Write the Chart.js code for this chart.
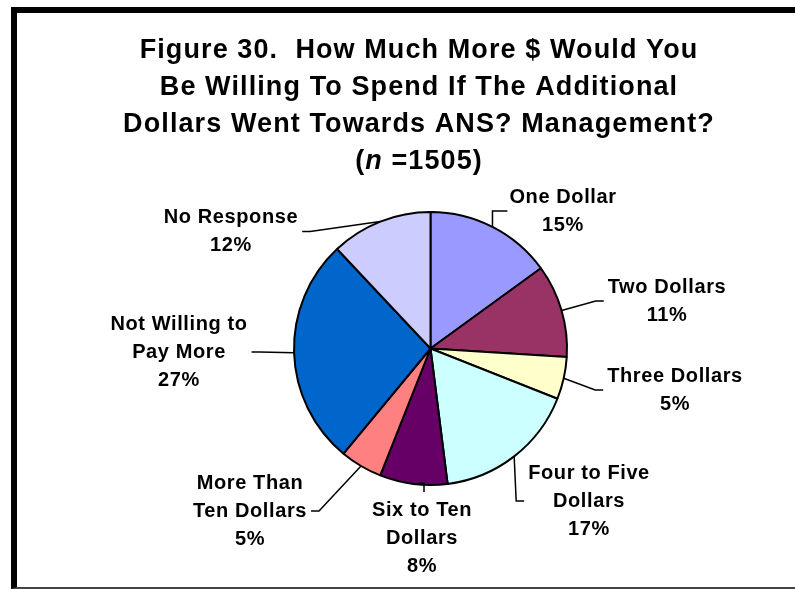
<!DOCTYPE html>
<html>
<head>
<meta charset="utf-8">
<script src="https://cdn.jsdelivr.net/npm/chart.js@4.4.0/dist/chart.umd.min.js"></script>
<style>
  html, body { margin: 0; padding: 0; background: #fff; }
  #wrap { position: relative; width: 795px; height: 589px; overflow: hidden; }
  #pieChart { position: absolute; left: 0; top: 0; }
  #frame {
    position: absolute; left: 11px; top: 7px; width: 784px; height: 582px;
    box-sizing: border-box; pointer-events: none;
    border-left: 6px solid #000; border-top: 6px solid #000; border-bottom: 2px solid #444;
  }
</style>
</head>
<body>
<div id="wrap">
  <canvas id="pieChart" width="795" height="589"></canvas>
  <div id="frame"></div>
</div>
<script>
// Survey answers, clockwise from 12 o'clock
const categories = [
  'One Dollar', 'Two Dollars', 'Three Dollars', 'Four to Five Dollars',
  'Six to Ten Dollars', 'More Than Ten Dollars', 'Not Willing to Pay More', 'No Response'
];
const percents = [15, 11, 5, 17, 8, 5, 27, 12];
const sliceColors = ['#9999FF', '#993366', '#FFFFCC', '#CCFFFF', '#660066', '#FF8080', '#0066CC', '#CCCCFF'];

// How each category name wraps in its label
const labelLines = [
  ['One Dollar'],
  ['Two Dollars'],
  ['Three Dollars'],
  ['Four to Five', 'Dollars'],
  ['Six to Ten', 'Dollars'],
  ['More Than', 'Ten Dollars'],
  ['Not Willing to', 'Pay More'],
  ['No Response']
];

const titleLines = [
  'Figure 30.  How Much More $ Would You',
  'Be Willing To Spend If The Additional',
  'Dollars Went Towards ANS? Management?'
];
const sampleSize = 1505;

// label block centre as an offset from the pie centre, and where the leader line meets it
const labelPlacement = [
  { dx: 132.5, dy: -137.5, side: 'corner' },
  { dx: 236.5, dy: -47.5, side: 'right' },
  { dx: 244.5, dy: 41.5, side: 'right' },
  { dx: 158.5, dy: 152.5, side: 'right' },
  { dx: -8.5, dy: 189.5, side: 'below' },
  { dx: -180.5, dy: 162.5, side: 'left' },
  { dx: -251.5, dy: 3.5, side: 'left' },
  { dx: -199.5, dy: -117, side: 'left' }
];

const FONT = '"Liberation Sans", Arial, sans-serif';
const TITLE_SIZE = 27;
const TITLE_LINE = 37;
const TITLE_X = 419;
const TITLE_Y = 50.5;   // middle of the first title line
const LABEL_SIZE = 20;
const LABEL_LINE = 28;

// four-line heading; the last line has an italic n
const heading = {
  id: 'heading',
  afterDraw(chart) {
    const ctx = chart.ctx;
    const bold = `bold ${TITLE_SIZE}px ${FONT}`;
    ctx.save();
    ctx.letterSpacing = '1.1px';
    ctx.fillStyle = '#000';
    ctx.textBaseline = 'middle';
    ctx.font = bold;
    ctx.textAlign = 'center';
    titleLines.forEach((t, i) => ctx.fillText(t, TITLE_X, TITLE_Y + i * TITLE_LINE));

    const y = TITLE_Y + titleLines.length * TITLE_LINE;
    const parts = [
      { t: '(', f: bold },
      { t: 'n', f: `italic ${bold}` },
      { t: ' =' + sampleSize + ')', f: bold }
    ];
    ctx.textAlign = 'left';
    let total = 0;
    parts.forEach(p => { ctx.font = p.f; p.w = ctx.measureText(p.t).width; total += p.w; });
    let x = TITLE_X - total / 2;
    parts.forEach(p => { ctx.font = p.f; ctx.fillText(p.t, x, y); x += p.w; });
    ctx.restore();
  }
};

// category + percent labels with leader lines back to the slice
const sliceLabels = {
  id: 'sliceLabels',
  afterDatasetsDraw(chart) {
    const ctx = chart.ctx;
    const meta = chart.getDatasetMeta(0);
    ctx.save();
    ctx.font = `bold ${LABEL_SIZE}px ${FONT}`;
    ctx.letterSpacing = '0.6px';
    ctx.fillStyle = '#000';
    ctx.strokeStyle = '#000';
    ctx.lineWidth = 1.5;
    ctx.textAlign = 'center';
    ctx.textBaseline = 'middle';

    meta.data.forEach((arc, i) => {
      const p = arc.getProps(['x', 'y', 'startAngle', 'endAngle', 'outerRadius'], true);
      const mid = (p.startAngle + p.endAngle) / 2;
      const ax = p.x + Math.cos(mid) * p.outerRadius;
      const ay = p.y + Math.sin(mid) * p.outerRadius;

      const lines = labelLines[i].concat([percents[i] + '%']);
      const place = labelPlacement[i];
      const cx = p.x + place.dx;
      const cy = p.y + place.dy;
      const w = Math.max(...lines.map(l => ctx.measureText(l).width));
      const left = cx - w / 2, right = cx + w / 2;
      const top = cy - lines.length * LABEL_LINE / 2;

      let elbow, end;
      if (place.side === 'right') {
        end = [left - 4, cy]; elbow = [end[0] - 8, cy];
      } else if (place.side === 'left') {
        end = [right + 4, cy]; elbow = [end[0] + 8, cy];
      } else if (place.side === 'below') {
        end = [cx + 2, top - 4]; elbow = [cx + 2, top - 13];
      } else {
        end = [left - 2, cy]; elbow = [ax, cy];
      }
      ctx.beginPath();
      ctx.moveTo(ax, ay);
      ctx.lineTo(elbow[0], elbow[1]);
      ctx.lineTo(end[0], end[1]);
      ctx.stroke();

      lines.forEach((l, k) => {
        ctx.fillText(l, cx, top + LABEL_LINE / 2 + k * LABEL_LINE);
      });
    });
    ctx.restore();
  }
};

new Chart(document.getElementById('pieChart'), {
  type: 'pie',
  data: {
    labels: categories,
    datasets: [{
      data: percents,
      backgroundColor: sliceColors,
      borderColor: '#000',
      borderWidth: 2
    }]
  },
  options: {
    responsive: false,
    animation: false,
    radius: 136.5,
    layout: { padding: { left: 66, right: 0, top: 212, bottom: 104 } },
    plugins: {
      legend: { display: false },
      tooltip: { enabled: false },
      title: { display: false }
    }
  },
  plugins: [sliceLabels, heading]
});
</script>
</body>
</html>
